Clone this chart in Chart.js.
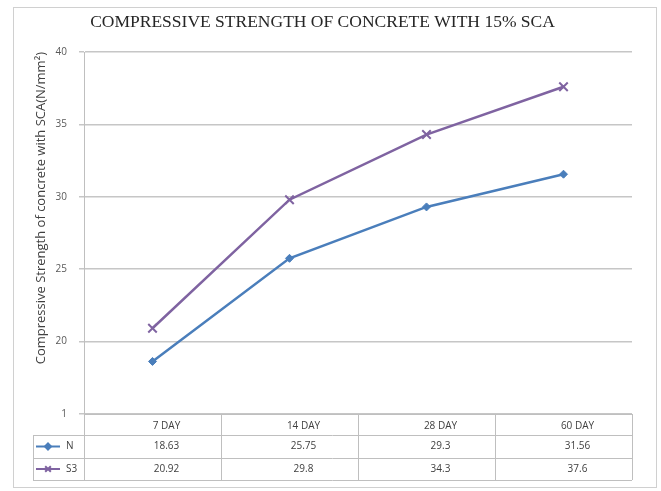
<!DOCTYPE html>
<html>
<head>
<meta charset="utf-8">
<script src="https://cdn.jsdelivr.net/npm/chart.js@4.4.1/dist/chart.umd.min.js"></script>
<style>
  body { margin: 0; background: #fff; }
</style>
</head>
<body>
<canvas id="grafica" width="661" height="491"></canvas>
<script>
// datos
const categorias = ['7 DAY', '14 DAY', '28 DAY', '60 DAY']
const serieN = [18.63, 25.75, 29.3, 31.56]
const serieS3 = [20.92, 29.8, 34.3, 37.6]
const nombresSeries = ['N', 'S3']
const valoresEje = [15, 20, 25, 30, 35, 40]
const etiquetasEje = ['1', '20', '25', '30', '35', '40']

const colorN = '#4a7ebb'
const colorS3 = '#7f63a1'
const fuente = "'Open Sans', 'Liberation Sans', sans-serif"

// marco y tabla de datos debajo del eje x
const tablaDatos = {
  id: 'tablaDatos',
  beforeDraw(chart) {
    const ctx = chart.ctx
    ctx.save()
    ctx.strokeStyle = '#d0d0d0'
    ctx.lineWidth = 1
    ctx.strokeRect(13.5, 7.5, 643, 480)
    ctx.restore()
  },
  afterDraw(chart) {
    const ctx = chart.ctx
    const area = chart.chartArea
    const n = categorias.length
    const ancho = (area.right - area.left) / n
    const y0 = area.bottom
    const filas = [y0, y0 + 21, y0 + 44, y0 + 66]
    const izqLeyenda = 33

    ctx.save()
    ctx.strokeStyle = '#bfbfbf'
    ctx.lineWidth = 1

    // lineas horizontales
    for (let i = 1; i < filas.length; i++) {
      ctx.beginPath()
      ctx.moveTo(izqLeyenda, Math.round(filas[i]) + 0.5)
      ctx.lineTo(area.right, Math.round(filas[i]) + 0.5)
      ctx.stroke()
    }
    // lineas verticales
    for (let i = 0; i <= n; i++) {
      const x = Math.round(area.left + i * ancho) + 0.5
      ctx.beginPath()
      ctx.moveTo(x, y0)
      ctx.lineTo(x, filas[3])
      ctx.stroke()
    }
    ctx.beginPath()
    ctx.moveTo(izqLeyenda + 0.5, filas[1])
    ctx.lineTo(izqLeyenda + 0.5, filas[3])
    ctx.stroke()

    // textos
    ctx.fillStyle = '#404040'
    ctx.font = '10px ' + fuente
    ctx.textAlign = 'center'
    ctx.textBaseline = 'middle'
    const series = [serieN, serieS3]
    for (let i = 0; i < n; i++) {
      const xc = chart.scales.x.getPixelForValue(i) + 14
      ctx.fillText(categorias[i], xc, (filas[0] + filas[1]) / 2 + 2)
      for (let s = 0; s < series.length; s++) {
        ctx.fillText(String(series[s][i]), xc, (filas[s + 1] + filas[s + 2]) / 2)
      }
    }

    // claves de la leyenda
    const colores = [colorN, colorS3]
    const estilos = ['rectRot', 'crossRot']
    for (let s = 0; s < nombresSeries.length; s++) {
      const yc = (filas[s + 1] + filas[s + 2]) / 2
      ctx.strokeStyle = colores[s]
      ctx.fillStyle = colores[s]
      ctx.lineWidth = 2
      ctx.beginPath()
      ctx.moveTo(36, yc)
      ctx.lineTo(60, yc)
      ctx.stroke()
      Chart.helpers.drawPoint(ctx, { pointStyle: estilos[s], radius: s === 0 ? 3 : 4, borderWidth: 1.5 }, 48, yc)
      ctx.fillStyle = '#404040'
      ctx.textAlign = 'left'
      ctx.fillText(nombresSeries[s], 66, yc)
    }
    ctx.restore()
  }
}

const grafica = new Chart(document.getElementById('grafica'), {
  type: 'line',
  data: {
    labels: categorias,
    datasets: [{
      label: nombresSeries[0],
      data: serieN,
      borderColor: colorN,
      backgroundColor: colorN,
      borderWidth: 2.5,
      pointStyle: 'rectRot',
      pointRadius: 4,
      pointBorderWidth: 1,
      tension: 0
    }, {
      label: nombresSeries[1],
      data: serieS3,
      borderColor: colorS3,
      backgroundColor: colorS3,
      borderWidth: 2.5,
      pointStyle: 'crossRot',
      pointRadius: 6,
      pointBorderWidth: 2,
      tension: 0
    }]
  },
  options: {
    responsive: false,
    animation: false,
    layout: { padding: { top: 12, left: 13, right: 29, bottom: 77 } },
    plugins: {
      legend: { display: false },
      tooltip: { enabled: false },
      title: {
        display: true,
        text: 'COMPRESSIVE STRENGTH OF CONCRETE WITH 15% SCA',
        color: '#262626',
        font: { family: "'Liberation Serif', serif", size: 17.5, weight: 'normal', lineHeight: 1.2 },
        padding: { top: 0, bottom: 19 }
      }
    },
    scales: {
      x: {
        offset: true,
        grid: { display: false },
        ticks: { display: false },
        border: { display: true, color: '#bfbfbf', width: 1 },
        afterFit: (s) => { s.height = 0 }
      },
      y: {
        min: valoresEje[0],
        max: valoresEje[valoresEje.length - 1],
        afterBuildTicks: (s) => { s.ticks = valoresEje.map(v => ({ value: v })) },
        ticks: {
          color: '#595959',
          font: { family: fuente, size: 10 },
          padding: 12,
          callback: (v) => etiquetasEje[valoresEje.indexOf(v)]
        },
        grid: { color: '#c6c6c6', lineWidth: 1.5, tickLength: 5 },
        border: { display: true, color: '#bfbfbf', width: 1 },
        title: {
          display: true,
          text: 'Compressive Strength of concrete with SCA(N/mm²)',
          align: 'end',
          color: '#404040',
          font: { family: fuente, size: 13, lineHeight: 1.2 },
          padding: { top: 20, bottom: 0 }
        },
        afterFit: (s) => { s.width = 71 }
      }
    }
  },
  plugins: [tablaDatos]
})
</script>
</body>
</html>
